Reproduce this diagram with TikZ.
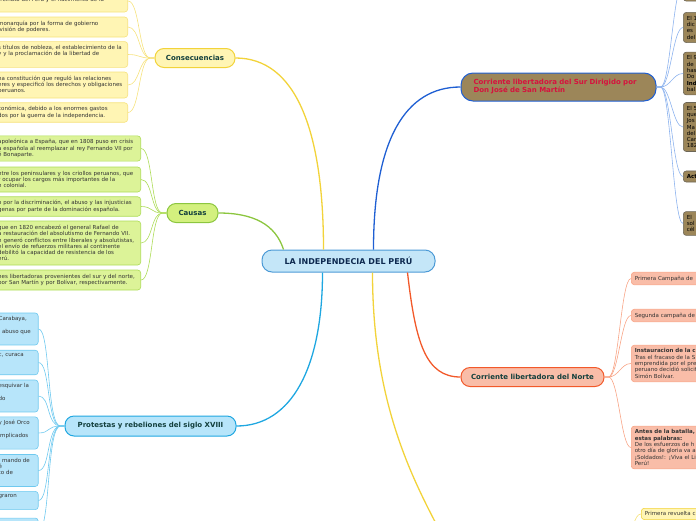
\documentclass[tikz,border=0pt]{standalone}
\usepackage{fontspec}
\setmainfont{DejaVu Sans}
\usetikzlibrary{positioning}
\definecolor{RootFill}{HTML}{C4E6F8}
\definecolor{RootLine}{HTML}{4C9AD6}
\definecolor{NavyText}{HTML}{0E2A50}
\definecolor{DarkTeal}{HTML}{123F3C}
\definecolor{ConsFill}{HTML}{FFF5B4}
\definecolor{ConsLine}{HTML}{F2D33A}
\definecolor{ConsLeaf}{HTML}{F6E27C}
\definecolor{CausFill}{HTML}{D3F07E}
\definecolor{CausLine}{HTML}{8CC63F}
\definecolor{CausLeaf}{HTML}{ADDC58}
\definecolor{ProtFill}{HTML}{B7E5FA}
\definecolor{ProtLine}{HTML}{1FA7E1}
\definecolor{ProtLeaf}{HTML}{6FC9EF}
\definecolor{SurFill}{HTML}{9C8659}
\definecolor{SurLine}{HTML}{1F5FD3}
\definecolor{SurLeaf}{HTML}{8DB3EE}
\definecolor{SurEdge}{HTML}{6C6657}
\definecolor{SurText}{HTML}{D6123E}
\definecolor{NorFill}{HTML}{F9BDA8}
\definecolor{NorLine}{HTML}{F2592A}
\definecolor{NorLeaf}{HTML}{F8A486}

\begin{document}
\begin{tikzpicture}[x=1pt, y=-1pt,
    topic/.style={draw, line width=1pt, rounded corners=9pt, text=DarkTeal,
        font=\fontsize{7}{8}\selectfont\bfseries, minimum height=19pt},
    leaf/.style={draw, line width=0.6pt, rounded corners=3pt, inner sep=3.5pt,
        align=left, text=black!80, font=\fontsize{5.5}{6.3}\selectfont},
    branch/.style={line width=1.3pt},
    link/.style={line width=0.6pt}]
    \useasboundingbox (0,0) rectangle (696,520);
    \clip (0,0) rectangle (696,520);

    % Center topic
    \node[topic, fill=RootFill, draw=RootLine, text=NavyText, minimum width=173pt,
        minimum height=22pt, rounded corners=10pt, font=\fontsize{8}{9}\selectfont\bfseries]
        (root) at (348.5,261) {LA INDEPENDECIA DEL PERÚ};

    % Main topics
    \node[topic, fill=ConsFill, draw=ConsLine, minimum width=80pt] (cons) at (195,58) {Consecuencias};
    \node[topic, fill=CausFill, draw=CausLine, minimum width=51pt] (caus) at (192.5,213) {Causas};
    \node[topic, fill=ProtFill, draw=ProtLine, minimum width=171pt, minimum height=20pt] (prot) at (150.5,426) {Protestas y rebeliones del siglo XVIII};
    \node[topic, fill=SurFill, draw=SurLine, text=SurText, minimum width=195pt, minimum height=28pt,
        rounded corners=12pt, align=left, text width=170pt, font=\fontsize{7}{8}\selectfont\bfseries]
        (sur) at (558.5,87) {Corriente libertadora del Sur Dirigido por\\Don José de San Martín};
    \node[topic, fill=NorFill, draw=NorLine, minimum width=143pt] (nor) at (532.5,377) {Corriente libertadora del Norte};
    \coordinate (rev) at (455,560);

    % Branches from the center
    \draw[branch, ConsLine] ([xshift=-25pt]root.north) .. controls +(0,-120) and +(60,0) .. (cons.east);
    \draw[branch, CausLine] ([xshift=-65pt]root.north) .. controls +(-8,-25) and +(35,0) .. (caus.east);
    \draw[branch, ProtLine] ([xshift=-26pt]root.south) .. controls +(0,95) and +(55,0) .. (prot.east);
    \draw[branch, SurLine] ([xshift=25pt]root.north) .. controls +(0,-110) and +(-55,0) .. (sur.west);
    \draw[branch, NorLine] ([xshift=59pt]root.south) .. controls +(8,70) and +(-35,0) .. (nor.west);
    \draw[branch, ConsLine] ([xshift=24pt]root.south) .. controls +(0,150) and +(-30,-60) .. (rev);

    % Consecuencias
    \foreach \n/\y/\h/\t in {
        c1/1/22/{\mbox{}\\rreinato del Perú y el nacimiento de la\\.},
        c2/27/20/{monarquía por la forma de gobierno\\ivisión de poderes.},
        c3/54.5/25/{s títulos de nobleza, el establecimiento de la\\y y la proclamación de la libertad de\\ \strut},
        c4/85/26/{na constitución que reguló las relaciones\\eres y especificó los derechos y obligaciones\\ peruanos.},
        c5/112.5/19.5/{conómica, debido a los enormes gastos\\dos por la guerra de la independencia.}} {
        \node[leaf, fill=ConsFill, draw=ConsLeaf, anchor=east, text width=126pt, minimum height=\h pt] (\n) at (128,\y) {\t};
        \draw[link, ConsLeaf] (cons.west) -- ++(-4,0) .. controls +(-12,0) and +(12,0) .. (\n.east);
    }

    % Causas
    \foreach \n/\y/\h/\t in {
        k1/148.5/25/{apoleónica a España, que en 1808 puso en crisis\\a española al reemplazar al rey Fernando VII por\\é Bonaparte.},
        k2/179.5/25/{ntre los peninsulares y los criollos peruanos, que\\r ocupar los cargos más importantes de la\\n colonial.},
        k3/206.5/19.5/{o por la discriminación, el abuso y las injusticias\\genas por parte de la dominación española.},
        k4/243/44/{que en 1820 encabezó el general Rafael de\\a restauración del absolutismo de Fernando VII.\\n generó conflictos entre liberales y absolutistas,\\el envío de refuerzos militares al continente\\debilitó la capacidad de resistencia de los\\erú.},
        k5/280/20/{nes libertadoras provenientes del sur y del norte,\\por San Martín y por Bolívar, respectivamente.}} {
        \node[leaf, fill=CausFill!80!white, draw=CausLeaf, anchor=east, text width=139pt, minimum height=\h pt] (\n) at (141,\y) {\t};
        \draw[link, CausLeaf] (caus.west) -- ++(-4,0) .. controls +(-12,0) and +(12,0) .. (\n.east);
    }

    % Protestas y rebeliones
    \foreach \n/\y/\t in {
        p1/329/{Carabaya,\\ \strut\\l abuso que\\ \strut},
        p2/362.5/{c, curaca\\ \strut\\ \strut},
        p3/396/{esquivar la\\ \strut\\do\\ \strut},
        p4/433/{y José Orco\\ \strut\\ implicados\\ \strut},
        p5/470.5/{l mando de\\é\\to de\\ \strut},
        p6/500.5/{graron\\ \strut},
        p7/531/{\strut\\ \strut\\ \strut}} {
        \node[leaf, fill=ProtFill, draw=ProtLeaf, anchor=east, text width=36pt] (\n) at (38.5,\y) {\t};
        \draw[link, ProtLeaf] (prot.west) -- ++(-4,0) .. controls +(-14,0) and +(12,0) .. (\n.east);
    }

    % Corriente libertadora del Sur
    \foreach \n/\y/\t in {
        s0/-15/{\strut\\ \strut\\ \strut\\ \strut},
        s1/27.5/{El 1\\dic\\ es\\del},
        s2/73.5/{El 9\\de\\has\\Do\\\textbf{Ind}\\bal},
        s3/127/{El 5\\que\\Jos\\ Ma\\del\\Car\\182},
        s4/176.5/{\textbf{Act}},
        s5/223.5/{El\\sol\\cél}} {
        \node[leaf, fill=SurFill, draw=SurEdge, text=black, anchor=west, text width=40pt] (\n) at (683,\y) {\t};
        \draw[link, SurLeaf] (sur.east) -- ++(4,0) .. controls +(10,0) and +(-10,0) .. (\n.west);
    }

    % Corriente libertadora del Norte
    \foreach \n/\y/\t in {
        n1/278.5/{Primera Campaña de},
        n2/315.5/{Segunda campaña de},
        n3/363.5/{\textbf{Instauracion de la c}\\Tras el fracaso de la S\\emprendida por el pre\\peruano decidió solicit\\Simón Bolívar.},
        n4/447.5/{\textbf{Antes de la batalla,}\\\textbf{estas palabras:}\\De los esfuerzos de h\\otro día de gloria va a\\¡Soldados!: ¡Viva el Li\\Perú!}} {
        \node[leaf, fill=NorFill, draw=NorLeaf, anchor=west, text width=80pt] (\n) at (631,\y) {\t};
        \draw[link, NorLeaf] (nor.east) -- ++(4,0) .. controls +(10,0) and +(-10,0) .. (\n.west);
    }

    % Lower yellow branch
    \node[leaf, fill=ConsFill, draw=ConsLine, anchor=north west, text width=70pt] (r1) at (641,508) {Primera revuelta c};
    \draw[link, ConsLeaf] ([xshift=175pt]rev) .. controls +(0,-30) and +(-6,0) .. (r1.west);
\end{tikzpicture}
\end{document}
